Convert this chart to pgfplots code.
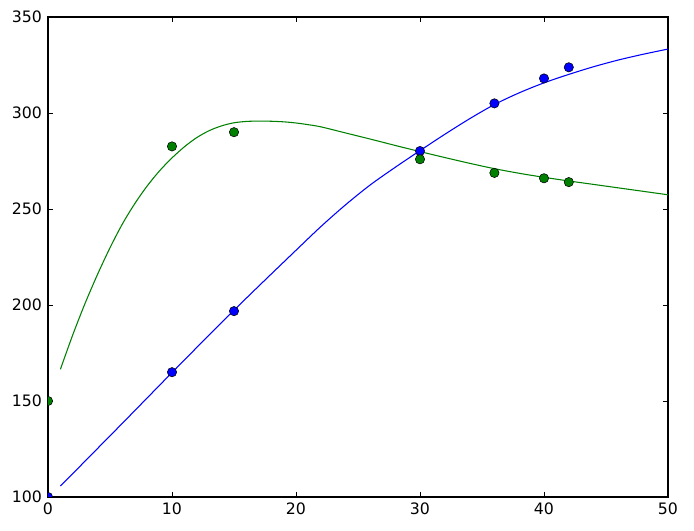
\documentclass[border=0pt]{standalone}
\usepackage{pgfplots}
\pgfplotsset{compat=1.18}
\usepackage{fontspec}
\setmainfont{DejaVu Sans}
\definecolor{mplblue}{rgb}{0,0,1}
\definecolor{mplgreen}{rgb}{0,0.5,0}
\begin{document}
\begin{tikzpicture}
\path[use as bounding box] (-36pt,-25.5pt) rectangle (484.5pt,372.75pt);
\begin{axis}[
  at={(0,0)}, anchor=south west,
  scale only axis, width=465pt, height=360pt,
  xmin=0, xmax=50, ymin=100, ymax=350,
  xtick={0,10,...,50}, ytick={100,150,...,350},
  tick pos=both, tick align=inside, major tick length=3.5pt,
  tick style={black, line width=0.6pt},
  axis line style={black, line width=0.8pt},
  ticklabel style={font=\fontsize{11.8}{13}\selectfont},
  xticklabel style={yshift=-1pt},
  yticklabel style={xshift=-1pt},
  /pgf/number format/assume math mode=true,
  /pgf/number format/1000 sep={},
  clip marker paths=true,
]
% fitted curves
\addplot[mplblue, line width=0.8pt, mark=none, smooth, tension=0.5] coordinates {
(1,105.7) (2,112.2) (4,125.3) (6,138.4) (8,151.6) (10,164.8)
(12,177.9) (14,190.9) (16,203.6) (18,216.1) (20,228.5)
(22,240.8) (24,252.2) (26,262.6) (28,271.7) (30,280.4) (32,288.9)
(34,297.0) (36,304.4) (38,310.5) (40,315.7) (42,320.1) (44,324.1)
(46,327.6) (48,330.6) (50,333.3)};
\addplot[mplgreen, line width=0.8pt, mark=none, smooth, tension=0.5] coordinates {
(1,166.5) (2,184.5) (3,201.0) (4,216.0) (5,229.8) (6,242.2) (7,252.8)
(8,262.0) (9,269.9) (10,276.6) (11,282.4) (12,287.2) (13,290.8)
(14,293.3) (15,294.9) (16,295.6) (17,295.8) (18,295.7) (19,295.4)
(20,294.8) (21,293.9) (22,292.8) (24,289.6) (26,286.4) (28,283.1)
(30,279.9) (32,276.8) (34,273.8) (36,271.0) (38,268.6) (40,266.5)
(42,264.6) (44,262.8) (46,261.0) (48,259.2) (50,257.4)};
% data points
\addplot[only marks, mark=*, mark size=3.5pt, mark options={fill=mplblue, draw=black, line width=0.4pt}] coordinates {
(0,100) (10,165) (15,196.8) (30,280.2) (36,305) (40,318) (42,323.8)};
\addplot[only marks, mark=*, mark size=3.5pt, mark options={fill=mplgreen, draw=black, line width=0.4pt}] coordinates {
(0,150) (10,282.6) (15,290) (30,275.9) (36,268.8) (40,266) (42,264)};
\end{axis}
\end{tikzpicture}
\end{document}
